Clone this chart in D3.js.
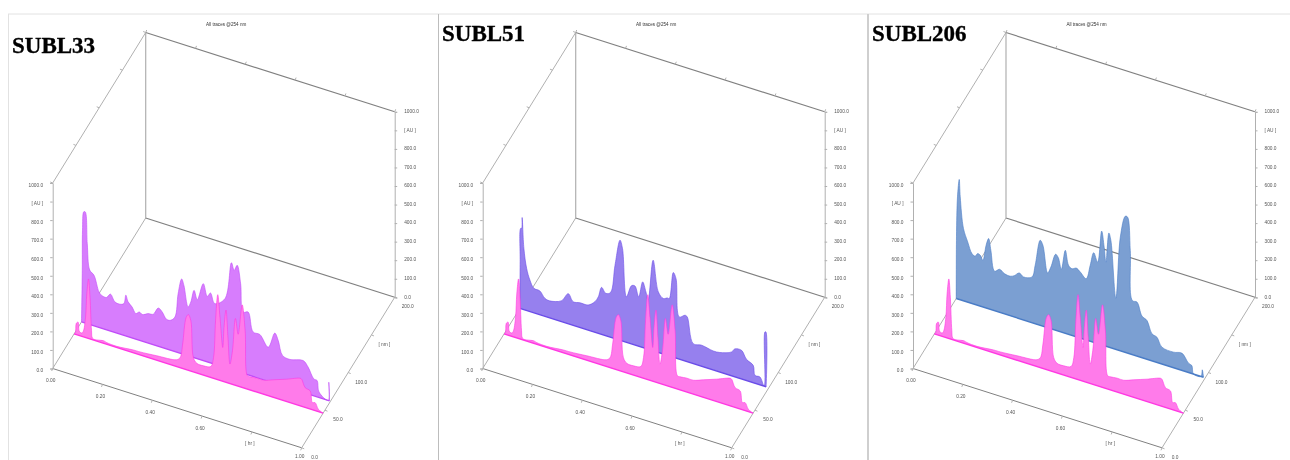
<!DOCTYPE html>
<html><head><meta charset="utf-8">
<script src="https://cdn.jsdelivr.net/npm/d3@7"></script>
<style>
html,body{margin:0;padding:0;background:#fff;overflow:hidden}
svg{display:block;filter:blur(0.45px)}
text{font-family:"Liberation Sans",Arial,sans-serif;fill:#555;font-size:4.8px}
.big{font-family:"Liberation Serif","Times New Roman",serif;font-weight:bold;font-size:23px;fill:#000;stroke:#000;stroke-width:.35px}
</style></head><body>
<svg id="c" width="1290" height="460"></svg>
<script>
// Shared reference trace (time in hr, absorbance in AU)
const refTime=[0,.005,.009,.016,.021,.031,.037,.046,.051,.058,.064,.070,.074,.091,.118,.131,.171,.238,.265,.332,.412,.426,.436,.450,.459,.469,.479,.493,.519,.549,.560,.568,.577,.586,.597,.602,.610,.618,.626,.636,.648,.659,.675,.687,.696,.707,.734,.760,.801,.854,.908,.914,.928,.948,.957,.968,.981,1];
const refAU=[0,6,61,70,23,18,30,109,237,321,225,48,8,6,14,9,6,15,16,24,37,55,132,281,300,271,78,52,50,59,112,313,458,339,182,292,389,245,105,181,360,280,445,310,72,71,75,75,95,121,149,146,107,98,39,43,13,0];
// SUBL33
const subl33Time=[0,.003,.004,.009,.015,.023,.033,.050,.070,.080,.100,.116,.134,.154,.170,.178,.187,.203,.218,.232,.245,.268,.288,.308,.324,.341,.357,.375,.388,.402,.411,.428,.439,.452,.465,.489,.505,.518,.535,.576,.602,.613,.625,.639,.649,.669,.689,.716,.750,.776,.790,.807,.837,.890,.910,.933,.946,.954,.991,.993,.996];
const subl33AU=[0,279,496,597,599,432,293,273,191,178,174,199,165,161,171,220,188,167,138,152,144,159,164,206,192,160,161,186,318,403,373,263,295,363,318,415,353,377,327,371,576,540,572,478,330,339,240,238,184,271,237,164,155,172,145,91,88,29,0,99,0];
// SUBL51
const subl51Time=[0,.001,.003,.007,.009,.016,.027,.040,.056,.080,.100,.118,.167,.194,.214,.241,.274,.301,.315,.328,.345,.364,.382,.402,.412,.428,.448,.462,.477,.493,.506,.515,.535,.556,.576,.592,.600,.616,.627,.640,.663,.672,.696,.730,.776,.803,.850,.863,.890,.910,.937,.944,.964,.981,.984,.988,.989];
const subl51AU=[0,252,432,434,493,330,227,170,132,128,97,91,112,162,127,133,135,164,197,253,228,241,396,539,499,245,313,318,266,353,305,264,488,326,299,309,309,456,428,227,246,241,107,113,102,105,128,150,154,114,93,42,42,0,293,295,0];
// SUBL206
const subl206Time=[0,.001,.005,.012,.016,.029,.046,.063,.076,.086,.096,.107,.120,.130,.139,.154,.174,.193,.217,.233,.253,.270,.304,.317,.337,.348,.367,.380,.399,.410,.422,.438,.451,.465,.482,.498,.522,.538,.552,.568,.584,.594,.601,.613,.621,.641,.659,.679,.688,.699,.707,.726,.746,.766,.786,.806,.826,.873,.906,.933,.946,.953,.983,.988,.993];
const subl206AU=[0,333,550,647,555,390,325,269,261,279,275,252,339,379,320,213,232,217,213,223,246,232,246,315,458,436,295,332,409,395,338,447,372,359,370,356,330,409,483,439,613,531,453,615,579,276,613,734,733,558,292,291,224,209,146,136,91,84,93,50,43,0,0,38,0];

const panelNames=["SUBL33","SUBL51","SUBL206"];
const panelWavelength=[62,80,93];
const panelTimes=[subl33Time,subl51Time,subl206Time];
const panelAUs=[subl33AU,subl51AU,subl206AU];
const panelFill=["#d77dfd","#9680ee","#7b9fd2"];
const panelStroke=["#c04cf8","#6a4ce8","#4a7cc6"];
const refWavelength=46;
const refFill="#ff7bea", refStroke="#ff38e2";
const titleText="All traces @254 nm";
const auTickLabels=["0.0","100.0","200.0","300.0","400.0","500.0","600.0","700.0","800.0","[ AU ]","1000.0"];
const timeTickLabels=["0.00","0.20","0.40","0.60","[ hr ]","1.00"];
const nmTickLabels=["0.0","50.0","100.0","[ nm ]","200.0"];

const svg=d3.select("#c");
const frame="#e2e2e2";
svg.append("line").attr("x1",8).attr("x2",1290).attr("y1",14).attr("y2",14).attr("stroke",frame);
[[8.5,"#e2e2e2",1],[438.5,"#bdbdbd",1],[868,"#cfcfcf",2]].forEach(([x,c,w])=>
  svg.append("line").attr("x1",x).attr("x2",x).attr("y1",14).attr("y2",460).attr("stroke",c).attr("stroke-width",w));

// projection scales: data value -> screen displacement
const tX=d3.scaleLinear().domain([0,1]).range([0,249]);
const tY=d3.scaleLinear().domain([0,1]).range([0,79.3]);
const nX=d3.scaleLinear().domain([0,200]).range([0,93]);
const nY=d3.scaleLinear().domain([0,200]).range([0,-150.5]);
const aY=d3.scaleLinear().domain([0,1000]).range([0,-185.5]);
const px=(t,n)=>tX(t)+nX(n);
const py=(t,n,a)=>tY(t)+nY(n)+aY(a);
const axisCol="#b0b0b0", darkCol="#808080";

panelNames.forEach((name,i)=>{
  const g=svg.append("g").attr("transform",`translate(${52.7+i*430+(i==2?0.3:0)},368.5)`);
  const seg=(a,b,c,w)=>g.append("line").attr("x1",px(a[0],a[1])).attr("y1",py(a[0],a[1],a[2]))
     .attr("x2",px(b[0],b[1])).attr("y2",py(b[0],b[1],b[2])).attr("stroke",c).attr("stroke-width",w||1);
  // box
  seg([0,0,0],[1,0,0],darkCol);
  seg([0,0,0],[0,200,0],axisCol);
  seg([1,0,0],[1,200,0],axisCol);
  seg([0,200,0],[1,200,0],darkCol,1.2);
  seg([0,200,0],[0,200,1000],axisCol,1.2);
  seg([0,200,1000],[1,200,1000],darkCol,1.2);
  seg([0,0,1000],[0,200,1000],axisCol);

  // AU axes through d3 axis generators
  const auAxis=d3.scaleLinear().domain([0,1000]).range([0,-185.5]);
  const fmt=(d,j)=>auTickLabels[j];
  const left=g.append("g").call(d3.axisLeft(auAxis).ticks(10).tickSize(2.5).tickPadding(7).tickFormat(fmt));
  const right=g.append("g").attr("transform",`translate(${px(1,200)},${py(1,200,0)})`)
     .call(d3.axisRight(auAxis).ticks(10).tickSize(2.5).tickPadding(7).tickFormat(fmt));
  [left,right].forEach(a=>{
    a.attr("font-size",null).attr("font-family",null);
    a.select(".domain").attr("stroke",axisCol);
    a.selectAll(".tick line").attr("stroke",axisCol);
    a.selectAll("text").attr("fill",null);
  });
  left.selectAll("text").attr("dy","0.68em");
  right.selectAll("text").attr("dy","0.15em").attr("text-anchor","start");

  // oblique axes: ticks and labels from the scales
  const tTicks=tX.ticks(5), nTicks=nX.ticks(4);
  tTicks.forEach((t,j)=>{
    g.append("line").attr("x1",px(t,0)).attr("y1",py(t,0,0)).attr("x2",px(t,0)-1).attr("y2",py(t,0,0)+2.5).attr("stroke",axisCol);
    g.append("line").attr("x1",px(t,200)).attr("y1",py(t,200,1000)).attr("x2",px(t,200)+1).attr("y2",py(t,200,1000)-2.5).attr("stroke",axisCol);
    g.append("text").attr("x",px(t,0)-2).attr("y",Math.min(py(t,0,0)+13.5,89.5)).attr("text-anchor","middle").text(timeTickLabels[j]);
  });
  nTicks.forEach((n,j)=>{
    g.append("line").attr("x1",px(1,n)).attr("y1",py(1,n,0)).attr("x2",px(1,n)+2.5).attr("y2",py(1,n,0)+1).attr("stroke",axisCol);
    g.append("line").attr("x1",px(0,n)).attr("y1",py(0,n,1000)).attr("x2",px(0,n)-2.5).attr("y2",py(0,n,1000)-1).attr("stroke",axisCol);
    g.append("text").attr("x",px(1,n)+13).attr("y",py(1,n,0)+11).attr("text-anchor","middle").text(nmTickLabels[j]);
  });

  // traces
  const drawTrace=(times,aus,nm,fill,stroke)=>{
    const pts=times.map((t,k)=>[t,aus[k]]);
    const curve=d3.curveCatmullRom.alpha(0.5);
    const area=d3.area().x(d=>px(d[0],nm)).y0(d=>py(d[0],nm,0)).y1(d=>py(d[0],nm,d[1])).curve(curve);
    const top=d3.line().x(d=>px(d[0],nm)).y(d=>py(d[0],nm,d[1])).curve(curve);
    const t=g.append("g");
    t.append("path").attr("d",area(pts)).attr("fill",fill);
    t.append("path").attr("d",top(pts)).attr("fill","none").attr("stroke",stroke).attr("stroke-width",.6);
    t.append("line").attr("x1",px(0,nm)).attr("y1",py(0,nm,0)).attr("x2",px(times[times.length-1],nm)).attr("y2",py(times[times.length-1],nm,0))
      .attr("stroke",stroke).attr("stroke-width",1.4);
  };
  drawTrace(panelTimes[i],panelAUs[i],panelWavelength[i],panelFill[i],panelStroke[i]);
  drawTrace(refTime,refAU,refWavelength,refFill,refStroke);

  g.append("text").attr("x",173.5).attr("y",-343).attr("text-anchor","middle").style("font-size","4.6px").style("fill","#333").text(titleText);
});
[[12,53],[442,41],[872,41]].forEach(([x,y],i)=>svg.append("text").attr("class","big").attr("x",x).attr("y",y).text(panelNames[i]));
</script></body></html>
